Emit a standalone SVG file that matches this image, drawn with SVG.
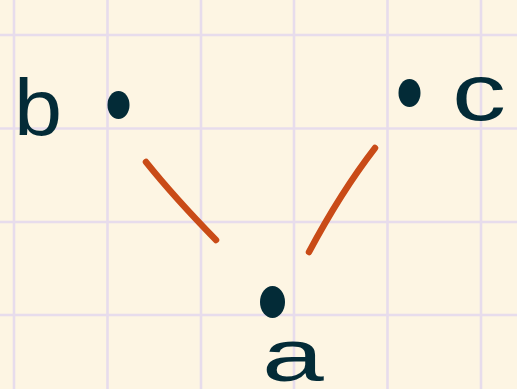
<svg xmlns="http://www.w3.org/2000/svg" width="517" height="389" viewBox="0 0 517 389">
<style>
.grid line{stroke:#e7dcec;stroke-width:2.6}
.dot{fill:#032b37}
.lbl{font-family:"Liberation Sans",Arial,sans-serif;font-size:80px;fill:#032b37}
.edge{fill:none;stroke:#c94b17;stroke-width:6.5;stroke-linecap:round}
</style>
<rect width="517" height="389" fill="#fdf5e3"/>
<g class="grid">
<line x1="14" y1="0" x2="14" y2="389"/>
<line x1="107.5" y1="0" x2="107.5" y2="389"/>
<line x1="201" y1="0" x2="201" y2="389"/>
<line x1="294" y1="0" x2="294" y2="389"/>
<line x1="387.5" y1="0" x2="387.5" y2="389"/>
<line x1="481" y1="0" x2="481" y2="389"/>
<line x1="0" y1="35" x2="517" y2="35"/>
<line x1="0" y1="128.5" x2="517" y2="128.5"/>
<line x1="0" y1="222" x2="517" y2="222"/>
<line x1="0" y1="315" x2="517" y2="315"/>
</g>
<g id="connectors">
<path class="edge" d="M146,162 Q174,197 216,240"/>
<path class="edge" d="M375,148 Q341,192 309,252"/>
</g>
<g id="node-b">
<ellipse class="dot" cx="118.5" cy="105" rx="11" ry="14"/>
<text class="lbl" x="14" y="135" transform="translate(14 0) scale(1.08 1) translate(-14 0)">b</text>
</g>
<g id="node-c">
<ellipse class="dot" cx="409.5" cy="93" rx="11" ry="14"/>
<text class="lbl" x="452" y="120" transform="translate(452 0) scale(1.35 1) translate(-452 0)">c</text>
</g>
<g id="node-a">
<ellipse class="dot" cx="272.5" cy="302" rx="12.5" ry="16"/>
<text class="lbl" x="262" y="381" style="font-size:74px" transform="translate(262 0) scale(1.5 1) translate(-262 0)">a</text>
</g>
</svg>
